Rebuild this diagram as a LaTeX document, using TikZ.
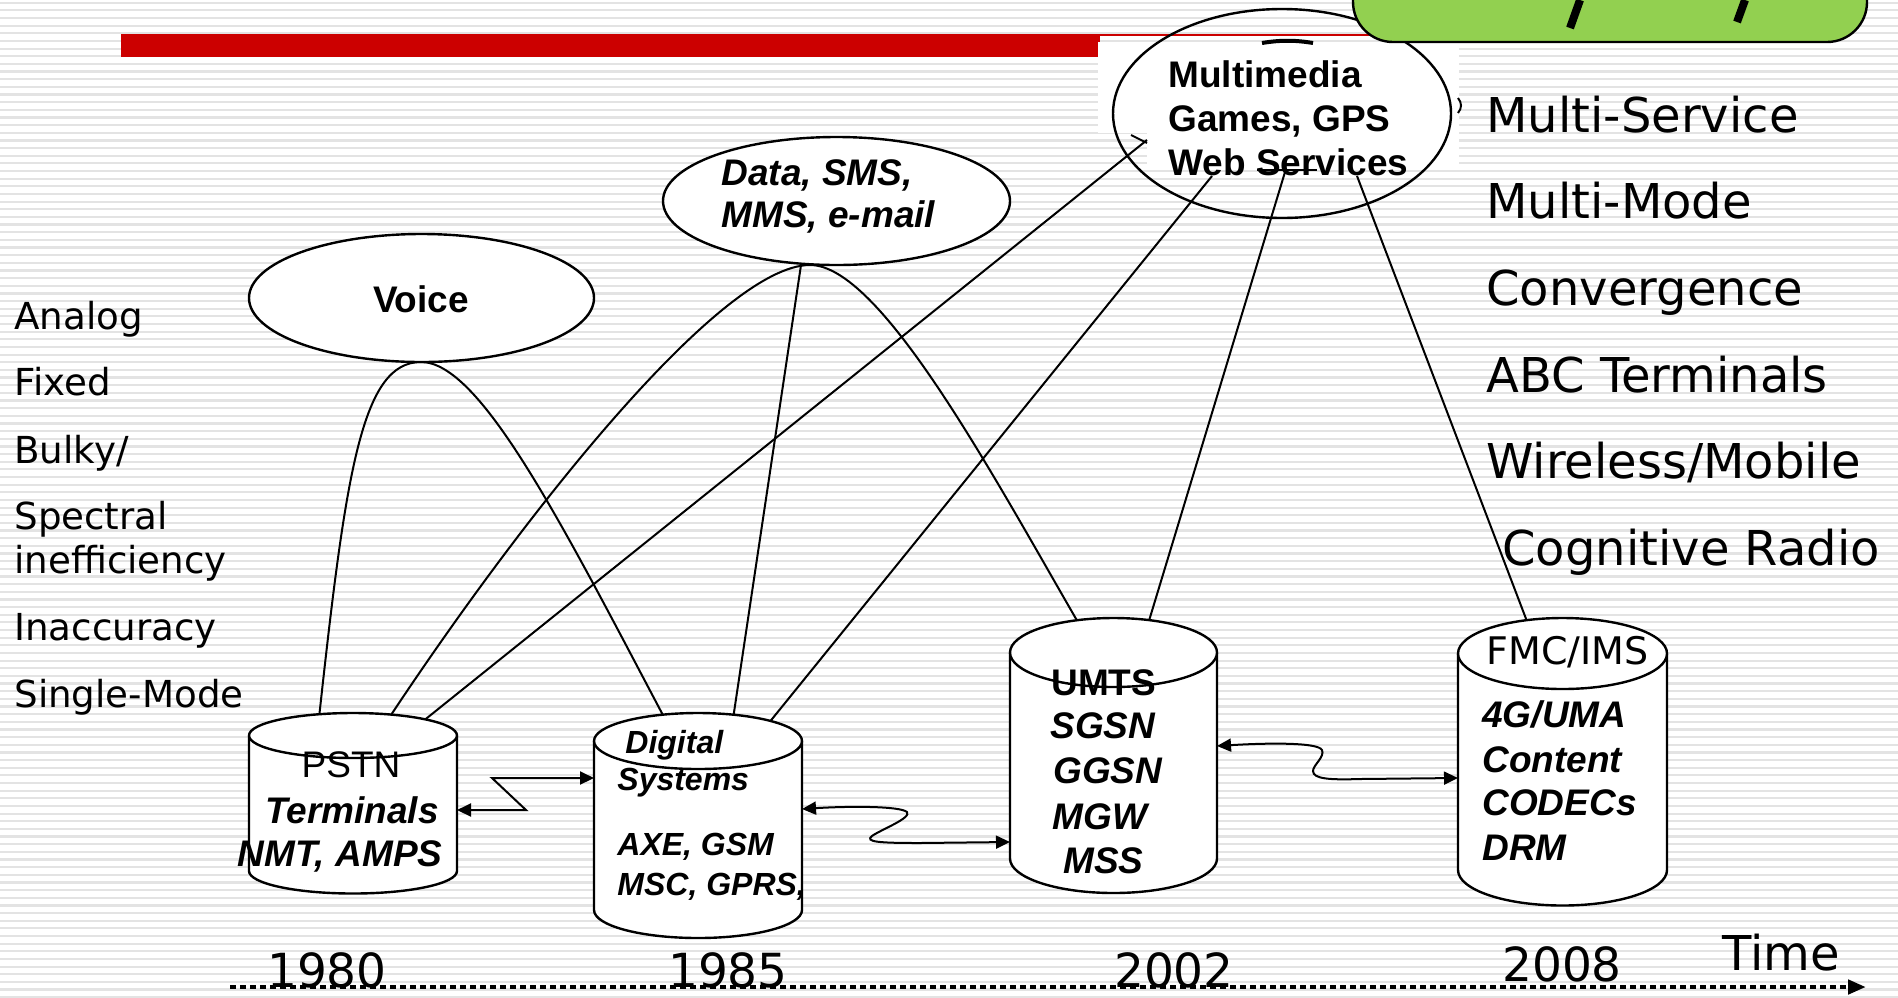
\documentclass[tikz,border=0pt]{standalone}
\usepackage{fontspec}
\setmainfont{Liberation Sans}
\newfontfamily\verd{DejaVu Sans}
\usetikzlibrary{arrows.meta,shapes.geometric}
\definecolor{redbar}{HTML}{CC0000}
\definecolor{boxgreen}{HTML}{92D050}
\definecolor{stripegray}{HTML}{E3E3E3}
% #1 name, #2 cx, #3 rx, #4 top cy, #5 ry, #6 bottom cy
\newcommand{\drawcyl}[6]{%
  \pgfmathsetmacro\cylL{#2-#3}%
  \pgfmathsetmacro\cylR{#2+#3}%
  \pgfmathsetmacro\cylKx{0.5523*#3}%
  \pgfmathsetmacro\cylKy{0.5523*#5}%
  \fill[white] (\cylL,#4) -- (\cylL,#6)
     .. controls (\cylL,{#6+\cylKy}) and ({#2-\cylKx},{#6+#5}) .. (#2,{#6+#5})
     .. controls ({#2+\cylKx},{#6+#5}) and (\cylR,{#6+\cylKy}) .. (\cylR,#6)
     -- (\cylR,#4) -- cycle;
  \draw[cylline] (\cylL,#4) -- (\cylL,#6)
     .. controls (\cylL,{#6+\cylKy}) and ({#2-\cylKx},{#6+#5}) .. (#2,{#6+#5})
     .. controls ({#2+\cylKx},{#6+#5}) and (\cylR,{#6+\cylKy}) .. (\cylR,#6)
     -- (\cylR,#4);
  \node[cyltop, minimum width={#3*1pt}, minimum height={#5*1pt}] (#1) at (#2,#4) {};
}
\begin{document}
\begin{tikzpicture}[x=0.5pt,y=-0.5pt,
  conn/.style={line width=1pt},
  ellbox/.style={ellipse, draw, line width=1.2pt, inner sep=0pt, outer sep=0pt},
  cylline/.style={line width=1.2pt},
  cyltop/.style={ellipse, draw, fill=white, line width=1.2pt, inner sep=0pt, outer sep=0pt},
  tipboth/.style={{Triangle[length=7pt,width=6.5pt]}-{Triangle[length=7pt,width=6.5pt]}},
  vlab/.style={font=\verd\fontsize{24}{28}\selectfont, anchor=base west, inner sep=0pt},
  llab/.style={font=\verd\fontsize{18.6}{22}\selectfont, anchor=base west, inner sep=0pt},
  yearlab/.style={font=\verd\fontsize{23.5}{28}\selectfont, anchor=base, inner sep=0pt},
  rt/.style={font=\fontsize{18.5}{22}\selectfont, anchor=base west, inner sep=0pt},
  bt/.style={font=\bfseries\fontsize{18.5}{22}\selectfont, anchor=base west, inner sep=0pt},
  bit/.style={font=\bfseries\itshape\fontsize{18.5}{22}\selectfont, anchor=base west, inner sep=0pt},
  bits/.style={font=\bfseries\itshape\fontsize{16}{19}\selectfont, anchor=base west, inner sep=0pt},
]
\useasboundingbox (0,0) rectangle (1898,997);
\clip (0,0) rectangle (1898,997);
% background
\fill[white] (0,0) rectangle (1898,997);
\foreach \k in {0,...,130} {\draw[stripegray, line width=1.1pt] (0,{2.7+7.65*\k}) -- (1898,{2.7+7.65*\k});}
% title bar
\fill[redbar] (121,34) rectangle (1100,57);
\draw[redbar, line width=1pt] (1100,35) -- (1400,35);
\fill[white] (1098,42) rectangle (1459,133);
\fill[white] (1147,42) rectangle (1459,167);
\draw[line width=2pt] (1262,43) .. controls (1280,40) and (1295,40) .. (1313,43);
\draw[line width=0.6pt] (1257,170) -- (1317,170);
\draw[line width=1pt] (1458,98) .. controls (1462,103) and (1462,108) .. (1458,113);

% service ellipses
\node[ellbox, fill=white, minimum width=172.5pt, minimum height=64pt] (voice) at (421.5,298) {};
\node[ellbox, fill=white, minimum width=173.5pt, minimum height=64pt] (data) at (836.5,201) {};
\node[ellbox, minimum width=169pt, minimum height=104.5pt] (mm) at (1282,113.5) {};

% connector end points
\coordinate (vA) at (319,718);
\coordinate (vTop) at (421,362);
\coordinate (vB) at (665,719);
\coordinate (dA) at (389,718);
\coordinate (dTop) at (810,265);
\coordinate (dB) at (1079,624);
\coordinate (dS) at (801,265);
\coordinate (dC) at (733,719);
\coordinate (m1) at (1147,140);
\coordinate (m1s) at (422,722);
\coordinate (m2) at (1212,176);
\coordinate (m2s) at (768,724);
\coordinate (m3) at (1285,172);
\coordinate (m3s) at (1148,624);
\coordinate (m4) at (1357,176);
\coordinate (m4s) at (1528,624);

\draw[conn] (vA) .. controls (346,470) and (362,362) .. (vTop) .. controls (480,362) and (560,520) .. (vB);
\draw[conn] (dA) .. controls (520,520) and (720,265) .. (dTop) .. controls (880,265) and (990,470) .. (dB);
\draw[conn] (dS) -- (dC);
\draw[conn] (m1s) -- (m1);
\draw[conn] (1131,135) -- (1147,143);
\draw[conn] (m2s) -- (m2);
\draw[conn] (m3s) -- (m3);
\draw[conn] (m4s) -- (m4);

% cylinders
\drawcyl{pstn}{353}{104}{735.5}{22.5}{871}
\drawcyl{digital}{698}{104}{741}{28}{910}
\drawcyl{umts}{1113.5}{103.5}{652.5}{34.5}{858.5}
\drawcyl{fmc}{1562.5}{104.5}{653.5}{35.5}{870}

% links between systems
\coordinate (pR) at (457,810);
\coordinate (gL) at (594,778);
\coordinate (gR) at (802,809);
\coordinate (uL) at (1010,842);
\coordinate (uR) at (1217,746);
\coordinate (fL) at (1458,778);
\draw[conn, tipboth] (pR) -- (526,810) -- (492,778) -- (gL);
\draw[conn, tipboth] (gR) .. controls (850,806) and (900,806) .. (907,812) .. controls (912,818) and (880,830) .. (872,836) .. controls (864,842) and (880,843) .. (920,843) -- (uL);
\draw[conn, tipboth] (uR) .. controls (1265,743) and (1318,742) .. (1322,750) .. controls (1325,757) and (1313,765) .. (1313,771) .. controls (1313,779) and (1330,780) .. (1360,779) -- (fL);

% texts in ellipses
\node[bt, anchor=base] (tvoice) at (421,312) {Voice};
\node[bit] (tdata1) at (721,185) {Data, SMS,};
\node[bit] (tdata2) at (721,227) {MMS, e-mail};
\node[bt] (tmm1) at (1168,87) {Multimedia};
\node[bt] (tmm2) at (1168,131) {Games, GPS};
\node[bt] (tmm3) at (1168,175) {Web Services};

% texts in cylinders
\node[rt, anchor=base] (tpstn) at (351,777) {PSTN};
\node[bit, anchor=base] (tterm) at (352,823) {Terminals};
\node[bit, anchor=base] (tnmt) at (340,866) {NMT, AMPS};
\node[bits] (tdig1) at (625,753) {Digital};
\node[bits] (tdig2) at (617,790) {Systems};
\node[bits] (tdig3) at (617,855) {AXE, GSM};
\node[bits] (tdig4) at (617,895) {MSC, GPRS,};
\node[bt] (tumts) at (1051,695) {UMTS};
\node[bit] (tsgsn) at (1050,738) {SGSN};
\node[bit] (tggsn) at (1053,783) {GGSN};
\node[bit] (tmgw) at (1052,829) {MGW};
\node[bit] (tmss) at (1063,873) {MSS};
\node[font=\verd\fontsize{19}{22}\selectfont, anchor=base west, inner sep=0pt] (tfmc) at (1486,664) {FMC/IMS};
\node[bit] (t4g) at (1482,727) {4G/UMA};
\node[bit] (tcont) at (1482,772) {Content};
\node[bit] (tcodec) at (1482,815) {CODECs};
\node[bit] (tdrm) at (1482,860) {DRM};

% left column
\node[llab] (l1) at (14,329) {Analog};
\node[llab] (l2) at (14,395) {Fixed};
\node[llab] (l3) at (14,463) {Bulky/};
\node[llab] (l4) at (14,529) {Spectral};
\node[llab] (l5) at (14,573) {inefficiency};
\node[llab] (l6) at (14,640) {Inaccuracy};
\node[llab] (l7) at (14,707) {Single-Mode};

% right column
\node[vlab] (r1) at (1486,132) {Multi-Service};
\node[vlab] (r2) at (1486,218) {Multi-Mode};
\node[vlab] (r3) at (1486,305) {Convergence};
\node[vlab] (r4) at (1486,392) {ABC Terminals};
\node[vlab] (r5) at (1486,478) {Wireless/Mobile};
\node[vlab] (r6) at (1502,565) {Cognitive Radio};

% time axis
\coordinate (axS) at (230,987);
\coordinate (axE) at (1866,987);
\draw[line width=2.4pt, dash pattern=on 3pt off 2pt, -{Triangle[length=9pt,width=7pt]}] (axS) -- (axE);
\node[yearlab] (y1) at (327,987) {1980};
\node[yearlab] (y2) at (728,987) {1985};
\node[yearlab] (y3) at (1174,987) {2002};
\node[yearlab] (y4) at (1562,981) {2008};
\node[vlab] (ytime) at (1722,970) {Time};

% green box (cut by the top edge)
\node[draw, fill=boxgreen, line width=1.2pt, rounded corners=20pt, minimum width=257pt, minimum height=51pt, inner sep=0pt] (greenbox) at (1610,-9) {};
\draw[line width=4pt] (1580,0) -- (1570,28);
\draw[line width=4pt] (1745,0) -- (1737,22);
\end{tikzpicture}
\end{document}
